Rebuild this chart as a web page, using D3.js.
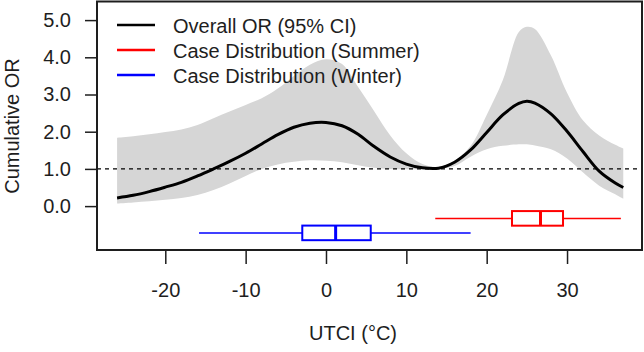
<!DOCTYPE html>
<html>
<head>
<meta charset="utf-8">
<script src="https://cdn.jsdelivr.net/npm/d3@7"></script>
<style>
  body { margin: 0; background: #fff; }
  svg text { font-family: "Liberation Sans", Arial, sans-serif; fill: #1e1e1e; }
</style>
</head>
<body>
<svg width="644" height="352"></svg>
<script>
const utci  = [-26, -24, -22, -20, -18, -16, -14, -12, -10, -8, -6, -4, -2, 0, 2, 4, 6, 8, 10, 12, 14, 16, 18, 20, 22, 24, 25, 26, 28, 30, 32, 34, 36, 37]
const orFit = [0.22, 0.29, 0.39, 0.51, 0.64, 0.81, 1.00, 1.20, 1.42, 1.67, 1.92, 2.12, 2.23, 2.25, 2.16, 1.93, 1.60, 1.32, 1.13, 1.03, 1.02, 1.18, 1.51, 1.98, 2.45, 2.76, 2.82, 2.77, 2.48, 2.01, 1.46, 0.94, 0.62, 0.50]
const orHi  = [1.84, 1.88, 1.93, 1.99, 2.06, 2.18, 2.36, 2.54, 2.72, 2.90, 3.16, 3.50, 3.80, 3.95, 3.82, 3.20, 2.55, 1.90, 1.42, 1.13, 1.05, 1.22, 1.62, 2.45, 3.38, 4.68, 4.82, 4.76, 4.05, 3.05, 2.30, 1.90, 1.65, 1.55]
const orLo  = [0.07, 0.10, 0.13, 0.17, 0.22, 0.30, 0.43, 0.61, 0.81, 1.00, 1.12, 1.19, 1.23, 1.22, 1.18, 1.10, 1.03, 1.00, 0.99, 0.99, 1.00, 1.08, 1.33, 1.53, 1.62, 1.66, 1.66, 1.63, 1.53, 1.28, 0.90, 0.55, 0.32, 0.20]

// case distribution boxplots: [min, q1, median, q3, max]
const seasons   = ['Summer', 'Winter']
const boxStats  = [[13.6, 23.15, 26.7, 29.5, 36.7], [-15.8, -2.95, 1.2, 5.57, 18.0]]
const boxLevel  = [-0.33, -0.72]
const boxColors = ['#ff0000', '#0000ff']

const xTicks = [-20, -10, 0, 10, 20, 30]
const yTicks = [0, 1, 2, 3, 4, 5]
const legendLabels = ['Overall OR (95% CI)', 'Case Distribution (Summer)', 'Case Distribution (Winter)']
const legendColors = ['#000000', '#ff0000', '#0000ff']

const svg = d3.select('svg')
const box = {left: 97, right: 642, top: 1.5, bottom: 250}

const x = d3.scaleLinear().domain([-28.5, 39.33]).range([box.left, box.right])
const y = d3.scaleLinear().domain([-1.18, 5.5]).range([box.bottom, box.top])

const rows = utci.map((u, i) => ({u: u, fit: orFit[i], hi: orHi[i], lo: orLo[i]}))
const smooth = d3.curveCatmullRom.alpha(0.5)

// confidence band
svg.append('path')
    .datum(rows)
    .attr('fill', '#d6d6d6')
    .attr('d', d3.area().curve(smooth)
        .x(d => x(d.u)).y0(d => y(d.lo)).y1(d => y(d.hi)))

// reference line at OR = 1
svg.append('line')
    .attr('x1', box.left).attr('x2', box.right)
    .attr('y1', y(1)).attr('y2', y(1))
    .attr('stroke', '#000').attr('stroke-width', 1.4)
    .attr('stroke-dasharray', '4,4')

// overall OR curve
svg.append('path')
    .datum(rows)
    .attr('fill', 'none')
    .attr('stroke', '#000')
    .attr('stroke-width', 3)
    .attr('d', d3.line().curve(smooth).x(d => x(d.u)).y(d => y(d.fit)))

// boxplots
const half = 7.3
seasons.forEach((s, i) => {
    const st = boxStats[i]
    const cy = y(boxLevel[i])
    const g = svg.append('g').attr('stroke', boxColors[i]).attr('fill', 'none')
    g.append('line').attr('x1', x(st[0])).attr('x2', x(st[1])).attr('y1', cy).attr('y2', cy).attr('stroke-width', 1.5)
    g.append('line').attr('x1', x(st[3])).attr('x2', x(st[4])).attr('y1', cy).attr('y2', cy).attr('stroke-width', 1.5)
    g.append('rect')
        .attr('x', x(st[1])).attr('y', cy - half)
        .attr('width', x(st[3]) - x(st[1])).attr('height', half * 2)
        .attr('stroke-width', 2)
    g.append('line').attr('x1', x(st[2])).attr('x2', x(st[2]))
        .attr('y1', cy - half).attr('y2', cy + half).attr('stroke-width', 3)
})

// axes
const xAxis = svg.append('g')
    .attr('transform', `translate(0,${box.bottom})`)
    .call(d3.axisBottom(x).tickValues(xTicks).tickSize(14).tickPadding(19).tickFormat(d => String(d)))
const yAxis = svg.append('g')
    .attr('transform', `translate(${box.left},0)`)
    .call(d3.axisLeft(y).tickValues(yTicks).tickSize(12).tickPadding(14).tickFormat(d3.format('.1f')))
;[xAxis, yAxis].forEach(a => {
    a.select('.domain').remove()
    a.selectAll('line').attr('stroke', '#1e1e1e').attr('stroke-width', 1.5)
    a.selectAll('text').attr('font-size', 20).attr('fill', '#1e1e1e')
        .style('font-family', '"Liberation Sans", Arial, sans-serif')
})

// frame
svg.append('rect')
    .attr('x', box.left).attr('y', box.top)
    .attr('width', box.right - box.left).attr('height', box.bottom - box.top)
    .attr('fill', 'none').attr('stroke', '#1e1e1e').attr('stroke-width', 2)

// legend
legendLabels.forEach((lab, i) => {
    const ly = 25 + i * 25
    svg.append('line')
        .attr('x1', 117).attr('x2', 155).attr('y1', ly).attr('y2', ly)
        .attr('stroke', legendColors[i]).attr('stroke-width', 2.5)
    svg.append('text')
        .attr('x', 173).attr('y', ly + 8)
        .attr('font-size', 20)
        .text(lab)
})

// axis titles
svg.append('text')
    .attr('x', 353).attr('y', 340)
    .attr('text-anchor', 'middle').attr('font-size', 20)
    .text('UTCI (°C)')
svg.append('text')
    .attr('transform', 'translate(18.5,126) rotate(-90)')
    .attr('text-anchor', 'middle').attr('font-size', 20)
    .text('Cumulative OR')
</script>
</body>
</html>
